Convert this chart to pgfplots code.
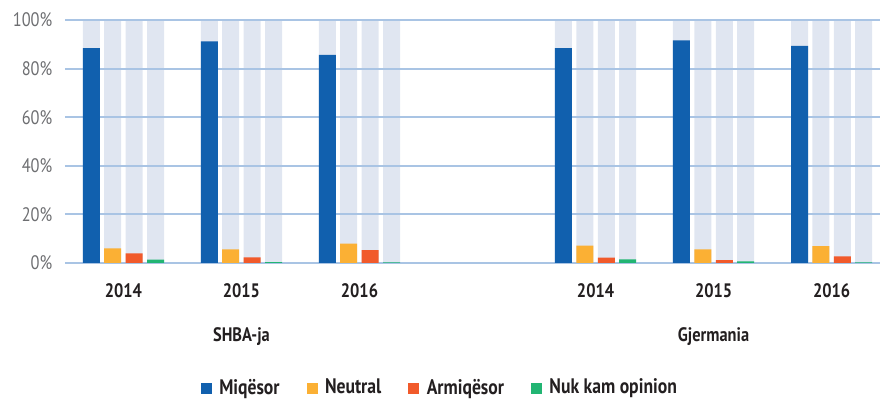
\documentclass[border=0pt]{standalone}
\usepackage{fontspec}
\setmainfont[FakeStretch=0.84]{PT Sans}
\usepackage{pgfplots}
\usepackage{pgfplotstable}
\pgfplotsset{compat=1.18}
\definecolor{cBlue}{HTML}{1160AE}
\definecolor{cOrange}{HTML}{FBB034}
\definecolor{cRed}{HTML}{F15A2B}
\definecolor{cGreen}{HTML}{22B573}
\definecolor{cBack}{HTML}{E0E6F1}
\definecolor{cGrid}{HTML}{A9C4E4}
\definecolor{cTick}{HTML}{6D6E71}
\definecolor{cText}{HTML}{231F20}

% x: 0-2 SHBA-ja 2014-2016, 4-6 Gjermania 2014-2016
\pgfplotstableread{
x mi   ne  ar  nu  bg
0 88.4 6.0 4.0 1.4 100
1 91.2 5.6 2.3 0.4 100
2 85.6 8.0 5.3 0.3 100
4 88.4 7.1 2.2 1.5 100
5 91.6 5.6 1.2 0.7 100
6 89.4 6.9 2.7 0.3 100
}\data

\pgfplotsset{
  bgbar/.style={ybar, bar width=0.144, bar shift=#1, fill=cBack, draw=none, forget plot},
  fgbar/.style={ybar, bar width=0.144, bar shift=#1, draw=none, forget plot},
}

\begin{document}
\fontsize{19.5}{22}\selectfont
\begin{tikzpicture}
\begin{axis}[
  at={(0,0)}, anchor=south west,
  scale only axis, width=815pt, height=243pt,
  clip=false, set layers,
  xmin=-0.495, xmax=6.41, ymin=0, ymax=100,
  axis line style={draw=none}, tick style={draw=none},
  ymajorgrids, grid style={cGrid, line width=2pt},
  ytick={0,20,...,100},
  yticklabel={\pgfmathprintnumber{\tick}\%},
  yticklabel style={text=cTick, xshift=-6pt, /pgf/number format/assume math mode=true},
  xtick={0,1,2,4,5,6},
  xticklabels={2014,2015,2016,2014,2015,2016},
  xticklabel style={font=\bfseries, text=cText, yshift=-14pt},
  legend style={at={(0.46,-0.514)}, anchor=center, draw=none, fill=none,
    legend columns=4, font=\fontsize{21}{24}\selectfont\bfseries, text=cText,
    /tikz/every odd column/.append style={column sep=6pt},
    /tikz/every even column/.append style={column sep=25pt}},
]
\pgfonlayer{axis background}
\addplot[bgbar=-0.272] table[x=x,y=bg]{\data};
\addplot[bgbar=-0.091] table[x=x,y=bg]{\data};
\addplot[bgbar=0.091] table[x=x,y=bg]{\data};
\addplot[bgbar=0.272] table[x=x,y=bg]{\data};
\endpgfonlayer

\addplot[fgbar=-0.272, fill=cBlue] table[x=x,y=mi]{\data};
\addplot[fgbar=-0.091, fill=cOrange] table[x=x,y=ne]{\data};
\addplot[fgbar=0.091, fill=cRed] table[x=x,y=ar]{\data};
\addplot[fgbar=0.272, fill=cGreen] table[x=x,y=nu]{\data};

\addlegendimage{legend image code/.code={\fill[cBlue] (0pt,-5pt) rectangle (10pt,5pt);}}
\addlegendentry{Miqësor}
\addlegendimage{legend image code/.code={\fill[cOrange] (0pt,-5pt) rectangle (10pt,5pt);}}
\addlegendentry{Neutral}
\addlegendimage{legend image code/.code={\fill[cRed] (0pt,-5pt) rectangle (10pt,5pt);}}
\addlegendentry{Armiqësor}
\addlegendimage{legend image code/.code={\fill[cGreen] (0pt,-5pt) rectangle (10pt,5pt);}}
\addlegendentry{Nuk kam opinion}

\node[font=\bfseries, text=cText] at (axis cs:1,0) [yshift=-74pt] {SHBA-ja};
\node[font=\bfseries, text=cText] at (axis cs:5,0) [yshift=-74pt] {Gjermania};
\end{axis}
\path[use as bounding box] (-65pt,-141pt) rectangle (819pt,263pt);
\end{tikzpicture}
\end{document}
